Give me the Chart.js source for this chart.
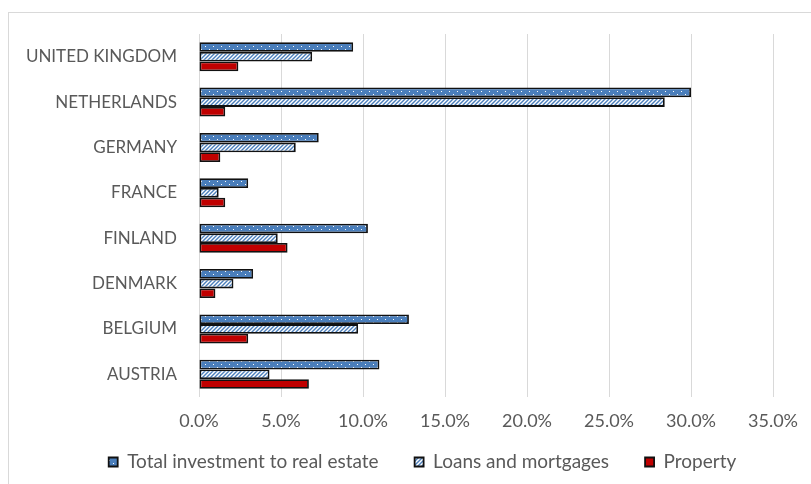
<!DOCTYPE html>
<html>
<head>
<meta charset="utf-8">
<script src="https://cdn.jsdelivr.net/npm/chart.js@4/dist/chart.umd.min.js"></script>
<style>
  html, body { margin: 0; padding: 0; background: #ffffff; }
  #wrap { position: relative; width: 811px; height: 484px; overflow: hidden; }
  #frame { position: absolute; left: 8px; top: 12px; width: 830px; height: 500px; border: 1px solid #d9d9d9; box-sizing: border-box; }
  #c { position: absolute; left: 0; top: 0; }
</style>
</head>
<body>
<div id="wrap">
  <div id="frame"></div>
  <canvas id="c" width="811" height="484"></canvas>
</div>
<script>
// Countries, top to bottom
const countries = ['UNITED KINGDOM', 'NETHERLANDS', 'GERMANY', 'FRANCE', 'FINLAND', 'DENMARK', 'BELGIUM', 'AUSTRIA'];

// Shares in percent
const totalInvestment = [9.4, 30.0, 7.3, 3.0, 10.3, 3.3, 12.8, 11.0];
const loansMortgages  = [6.9, 28.4, 5.9, 1.2, 4.8, 2.1, 9.7, 4.3];
const property        = [2.4, 1.6, 1.3, 1.6, 5.4, 1.0, 3.0, 6.7];

const seriesNames = ['Total investment to real estate', 'Loans and mortgages', 'Property'];
const xTicks = [0, 5, 10, 15, 20, 25, 30, 35];

const BLUE = '#4a7ebb';
const RED = '#c00000';
const TEXT = '#595959';
const FONT = 'Lato, "Open Sans", sans-serif';

const canvas = document.getElementById('c');
const ctx = canvas.getContext('2d');

// Blue fill sprinkled with small white dots
function dotPattern() {
  const t = document.createElement('canvas');
  t.width = 8; t.height = 6;
  const g = t.getContext('2d');
  g.fillStyle = BLUE; g.fillRect(0, 0, 8, 6);
  g.fillStyle = '#ffffff';
  g.fillRect(1, 1, 1, 1);
  g.fillRect(5, 4, 1, 1);
  return ctx.createPattern(t, 'repeat');
}

// White fill with blue forward diagonal stripes
function stripePattern() {
  const t = document.createElement('canvas');
  t.width = 4; t.height = 4;
  const g = t.getContext('2d');
  g.fillStyle = '#ffffff'; g.fillRect(0, 0, 4, 4);
  g.strokeStyle = BLUE; g.lineWidth = 1.4;
  g.beginPath();
  g.moveTo(-1, 5); g.lineTo(5, -1);
  g.moveTo(-1, 1); g.lineTo(1, -1);
  g.moveTo(3, 5); g.lineTo(5, 3);
  g.stroke();
  return ctx.createPattern(t, 'repeat');
}

const barCommon = {
  borderColor: '#111111',
  borderWidth: 1.8,
  borderSkipped: false,
  categoryPercentage: 0.64,
  barPercentage: 1.0
};

// Final placement tweaks: give the x tick labels room below the axis
// and set the legend row where it belongs under the plot.
const placeBoxes = {
  id: 'placeBoxes',
  afterLayout(chart) {
    const x = chart.scales.x;
    x.bottom = x.top + 50;
    x.height = 50;
    const lg = chart.legend;
    if (lg) {
      const h = lg.height;
      lg.left += 36; lg.right += 36;
      lg.top = 416.5; lg.bottom = lg.top + h;
    }
  }
};

new Chart(ctx, {
  type: 'bar',
  data: {
    labels: countries,
    datasets: [
      Object.assign({ label: seriesNames[0], data: totalInvestment, backgroundColor: dotPattern() }, barCommon),
      Object.assign({ label: seriesNames[1], data: loansMortgages, backgroundColor: stripePattern() }, barCommon),
      Object.assign({ label: seriesNames[2], data: property, backgroundColor: RED }, barCommon)
    ]
  },
  plugins: [placeBoxes],
  options: {
    indexAxis: 'y',
    responsive: false,
    animation: false,
    layout: { padding: { top: 34, left: 0, right: 38, bottom: 2 } },
    scales: {
      x: {
        min: xTicks[0],
        max: xTicks[xTicks.length - 1],
        afterBuildTicks: (scale) => { scale.ticks = xTicks.map(v => ({ value: v })); },
        afterFit: (scale) => { scale.height = 20; },
        grid: { color: '#d9d9d9', lineWidth: 1, drawTicks: false },
        border: { display: false },
        ticks: {
          padding: 13,
          color: TEXT,
          font: { family: FONT, size: 18 },
          callback: (v) => Number(v).toFixed(1) + '%'
        }
      },
      y: {
        afterFit: (scale) => { scale.width = 199; },
        grid: { display: false, drawTicks: false },
        border: { display: false },
        ticks: {
          padding: 22,
          color: TEXT,
          font: { family: FONT, size: 17 }
        }
      }
    },
    plugins: {
      tooltip: { enabled: false },
      legend: {
        position: 'bottom',
        labels: {
          boxWidth: 9,
          boxHeight: 9,
          padding: 36,
          color: TEXT,
          font: { family: FONT, size: 19 }
        }
      }
    }
  }
});
</script>
</body>
</html>
